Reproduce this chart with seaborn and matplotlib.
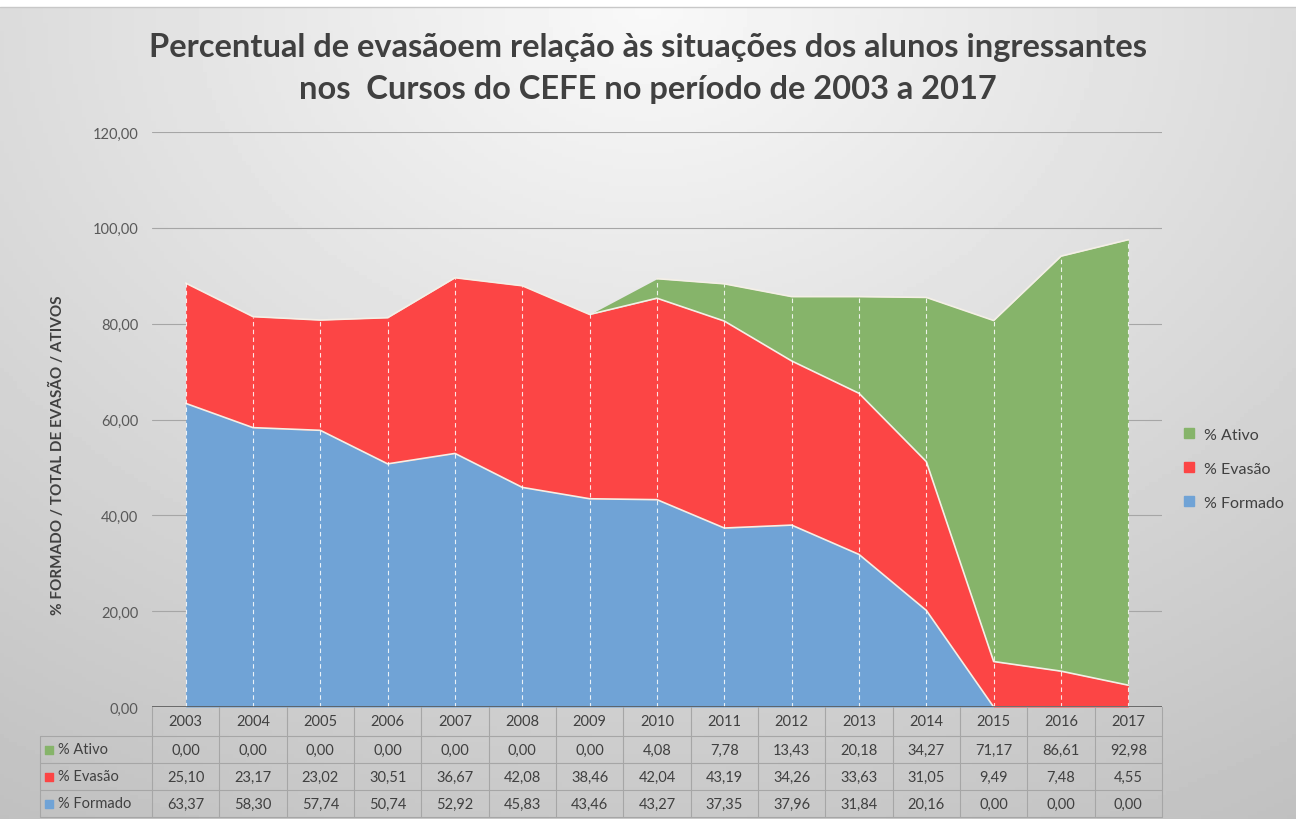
import numpy as np
import matplotlib.pyplot as plt
import matplotlib.transforms as mtransforms
from matplotlib.patches import Patch
import seaborn as sns

sns.set_theme(style="white")
plt.rcParams['font.family'] = ['Lato', 'DejaVu Sans']

# data
years = [2003, 2004, 2005, 2006, 2007, 2008, 2009, 2010,
         2011, 2012, 2013, 2014, 2015, 2016, 2017]
ativo = [0.00, 0.00, 0.00, 0.00, 0.00, 0.00, 0.00, 4.08,
         7.78, 13.43, 20.18, 34.27, 71.17, 86.61, 92.98]
evasao = [25.10, 23.17, 23.02, 30.51, 36.67, 42.08, 38.46, 42.04,
          43.19, 34.26, 33.63, 31.05, 9.49, 7.48, 4.55]
formado = [63.37, 58.30, 57.74, 50.74, 52.92, 45.83, 43.46, 43.27,
           37.35, 37.96, 31.84, 20.16, 0.00, 0.00, 0.00]
series_names = ['% Ativo', '% Evasão', '% Formado']

col_blue = '#70a3d6'
col_red = '#fc4545'
col_green = '#86b46a'
txt_col = '#404040'


def br(v):
    return f'{v:.2f}'.replace('.', ',')


fig = plt.figure(figsize=(12.96, 8.2), dpi=100)

# gray gradient background like the Excel chart area
bg = fig.add_axes([0, 0, 1, 1], zorder=-1)
gy, gx = np.mgrid[0:1:200j, 0:1:300j]
dist = np.sqrt(((gx - 0.5) * 1.1) ** 2 + (gy * 0.9) ** 2)
shade = 0.975 - 0.21 * dist
bg.imshow(shade, cmap='gray', vmin=0, vmax=1, aspect='auto',
          extent=[0, 1, 0, 0.99], origin='upper')
bg.set_xlim(0, 1)
bg.set_ylim(0, 1)
bg.axhline(0.99, color='#c8c8c8', lw=1)
bg.axis('off')

ax = fig.add_axes([152 / 1296, 1 - 708 / 820, 1010 / 1296, 575 / 820])
ax.set_facecolor('none')

x = np.arange(len(years))
formado_a = np.array(formado)
evasao_a = np.array(evasao)
ativo_a = np.array(ativo)

ax.stackplot(x, formado_a, evasao_a, ativo_a,
             colors=[col_blue, col_red, col_green], linewidth=0, zorder=2)

# light boundary lines on top of each layer
sns.lineplot(x=x, y=formado_a, color='#f4efe6', lw=1.2, ax=ax, zorder=3)
sns.lineplot(x=x, y=formado_a + evasao_a, color='#f4efe6', lw=1.2, ax=ax, zorder=3)
top = formado_a + evasao_a + ativo_a
sns.lineplot(x=x[ativo_a > 0], y=top[ativo_a > 0], color='#f4efe6', lw=1.2,
             ax=ax, zorder=3)

# dashed drop lines
ax.vlines(x, 0, top, colors='white', linestyles=(0, (4, 3)), lw=0.8,
          alpha=0.85, zorder=4)

ax.set_xlim(-0.5, len(years) - 0.5)
ax.set_ylim(0, 120)
ax.set_yticks(np.arange(0, 121, 20))
ax.set_yticklabels([br(v) for v in np.arange(0, 121, 20)], fontsize=10.5,
                   color='#595959')
ax.set_xticks([])
ax.tick_params(axis='y', length=0, pad=10)
ax.grid(axis='y', color='#a6a6a6', lw=0.8, zorder=0)
for s in ax.spines.values():
    s.set_visible(False)
ax.axhline(0, color='#595959', lw=1.2, zorder=5)

# data table under the plot
trans = mtransforms.blended_transform_factory(ax.transData, ax.transAxes)
rows_y = [0, -29 / 575, -56 / 575, -83 / 575, -110 / 575]
left_x = -0.5 - 112 / 67.33
line_kw = dict(color='#a6a6a6', lw=0.8, transform=trans, clip_on=False)
for k in range(len(years) + 1):
    ax.plot([k - 0.5, k - 0.5], [rows_y[0], rows_y[-1]], **line_kw)
ax.plot([left_x, left_x], [rows_y[1], rows_y[-1]], **line_kw)
for yy in rows_y[1:]:
    ax.plot([left_x, len(years) - 0.5], [yy, yy], **line_kw)

for k, yr in enumerate(years):
    ax.text(k, (rows_y[0] + rows_y[1]) / 2, str(yr), transform=trans,
            ha='center', va='center', fontsize=10.5, color=txt_col)

table_rows = [ativo, evasao, formado]
row_cols = [col_green, col_red, col_blue]
for r, (vals, name, c) in enumerate(zip(table_rows, series_names, row_cols)):
    yc = (rows_y[r + 1] + rows_y[r + 2]) / 2
    ax.scatter([left_x + 0.14], [yc], marker='s', s=30, color=c,
               transform=trans, clip_on=False)
    ax.text(left_x + 0.27, yc, name, transform=trans, ha='left',
            va='center', fontsize=10.5, color=txt_col)
    for k, v in enumerate(vals):
        ax.text(k, yc, br(v), transform=trans, ha='center', va='center',
                fontsize=10.5, color=txt_col)

# legend on the right
handles = [Patch(color=c, label=n) for c, n in zip(row_cols, series_names)]
fig.legend(handles=handles, loc='center left',
           bbox_to_anchor=(1170 / 1296, 1 - 470 / 820), frameon=False,
           fontsize=11.5, handlelength=0.6, handleheight=0.6,
           handletextpad=0.6, labelspacing=1.25, labelcolor=txt_col)

fig.text(0.5, 1 - 48 / 820,
         'Percentual de evasãoem relação às situações dos alunos ingressantes',
         ha='center', va='center', fontsize=23.5, fontweight='bold', color=txt_col)
fig.text(0.5, 1 - 90 / 820,
         'nos  Cursos do CEFE no período de 2003 a 2017',
         ha='center', va='center', fontsize=23.5, fontweight='bold', color=txt_col)

fig.text(57 / 1296, 1 - 455 / 820, '% FORMADO / TOTAL DE EVASÃO / ATIVOS',
         rotation=90, ha='center', va='center', fontsize=11,
         fontweight='bold', color=txt_col)

fig.savefig('out.png', dpi=100)
